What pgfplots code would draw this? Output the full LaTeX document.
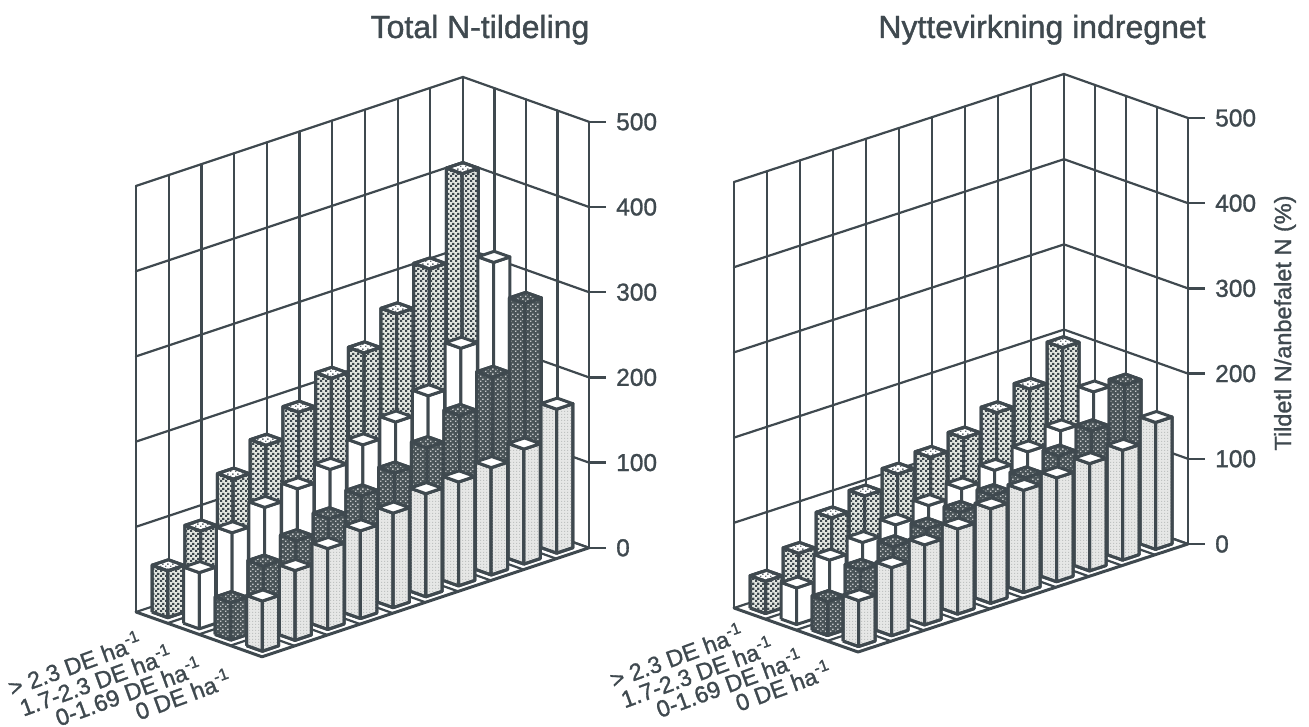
\documentclass[border=0pt]{standalone}
\usepackage{fontspec}
\setmainfont{Liberation Sans}[FakeBold=1.2]
\usepackage{pgfplots}
\pgfplotsset{compat=1.18}
\usetikzlibrary{patterns}

\definecolor{ink}{HTML}{3F494F}
\definecolor{lightstipple}{HTML}{BFC2C1}
\definecolor{palegrey}{HTML}{E6E7E6}
\definecolor{midgrey}{HTML}{4A5458}
\definecolor{tint}{HTML}{E4E7E2}

% Fill textures for the four stocking classes
\pgfdeclarepatternformonly{checkdots}{\pgfqpoint{0pt}{0pt}}{\pgfqpoint{5pt}{5pt}}{\pgfqpoint{5pt}{5pt}}{%
  \pgfpathrectangle{\pgfqpoint{0pt}{0pt}}{\pgfqpoint{2.5pt}{2.5pt}}%
  \pgfpathrectangle{\pgfqpoint{2.5pt}{2.5pt}}{\pgfqpoint{2.5pt}{2.5pt}}%
  \pgfusepath{fill}}
\pgfdeclarepatternformonly{holes}{\pgfqpoint{0pt}{0pt}}{\pgfqpoint{5pt}{5pt}}{\pgfqpoint{5pt}{5pt}}{%
  \pgfpathrectangle{\pgfqpoint{0pt}{0pt}}{\pgfqpoint{1.6pt}{1.6pt}}%
  \pgfpathrectangle{\pgfqpoint{2.5pt}{2.5pt}}{\pgfqpoint{1.6pt}{1.6pt}}%
  \pgfusepath{fill}}
\pgfdeclarepatternformonly{stipple}{\pgfqpoint{0pt}{0pt}}{\pgfqpoint{3pt}{3pt}}{\pgfqpoint{3pt}{3pt}}{%
  \pgfpathrectangle{\pgfqpoint{0pt}{0pt}}{\pgfqpoint{1.5pt}{1.5pt}}%
  \pgfusepath{fill}}

\pgfplotsset{
  frame/.style={ink,line width=2.2pt,line cap=round,line join=round,forget plot},
  edge/.style={draw=ink,line width=3pt,line join=round,forget plot},
  sideA/.style={edge,fill=tint,postaction={pattern=checkdots,pattern color=ink}},
  topA/.style={edge,fill=white,postaction={pattern=holes,pattern color=ink!80}},
  sideB/.style={edge,fill=white},
  topB/.style={edge,fill=white},
  sideC/.style={edge,fill=midgrey,postaction={pattern=holes,pattern color=white!70!ink}},
  topC/.style={edge,fill=midgrey,postaction={pattern=holes,pattern color=white!70!ink}},
  sideD/.style={edge,fill=palegrey,postaction={pattern=stipple,pattern color=lightstipple}},
  topD/.style={edge,fill=white},
  chart/.style={
    hide axis,clip=false,disabledatascaling,anchor=origin,
    xmin=0,xmax=10,ymin=0,ymax=4,zmin=0,zmax=500}
}

% One column: cell #1 along x, row #2 along y, height #3, texture letter #4
\newcommand{\col}[4]{%
  \pgfmathsetmacro{\xa}{#1+.25}\pgfmathsetmacro{\xb}{#1+.75}%
  \pgfmathsetmacro{\ya}{#2+.25}\pgfmathsetmacro{\yb}{#2+.75}%
  \edef\doit{%
    \noexpand\addplot3[side#4] coordinates {(\xa,\ya,0) (\xa,\yb,0) (\xa,\yb,#3) (\xa,\ya,#3) (\xa,\ya,0)};
    \noexpand\addplot3[side#4] coordinates {(\xa,\yb,0) (\xb,\yb,0) (\xb,\yb,#3) (\xa,\yb,#3) (\xa,\yb,0)};
    \noexpand\addplot3[top#4] coordinates {(\xa,\ya,#3) (\xa,\yb,#3) (\xb,\yb,#3) (\xb,\ya,#3) (\xa,\ya,#3)};
  }\doit}

% Walls, floor, ticks and the text shared by both charts; #1 and #2 nudge the row labels
\newcommand{\walls}[2]{%
  \addplot3[frame] coordinates {(0,0,0) (10,0,0) (10,4,0)};
  \addplot3[frame] coordinates {(0,0,100) (10,0,100) (10,4,100)};
  \addplot3[frame] coordinates {(0,0,200) (10,0,200) (10,4,200)};
  \addplot3[frame] coordinates {(0,0,300) (10,0,300) (10,4,300)};
  \addplot3[frame] coordinates {(0,0,400) (10,0,400) (10,4,400)};
  \addplot3[frame] coordinates {(0,0,500) (10,0,500) (10,4,500)};
  \pgfplotsinvokeforeach{0,...,10}{\addplot3[frame] coordinates {(##1,0,0) (##1,0,500)};}
  \pgfplotsinvokeforeach{1,...,4}{\addplot3[frame] coordinates {(10,##1,0) (10,##1,500)};}
  \pgfplotsinvokeforeach{1,...,10}{\addplot3[frame] coordinates {(##1,0,0) (##1,4,0)};}
  \pgfplotsinvokeforeach{1,...,3}{\addplot3[frame] coordinates {(0,##1,0) (10,##1,0)};}
  \addplot3[ink,line width=3pt,line cap=round,line join=round,forget plot] coordinates {(0,0,0) (0,4,0) (10,4,0)};
  \pgfplotsinvokeforeach{0,100,...,500}{%
    \draw[ink,line width=2.4pt] (axis cs:10,4,##1) -- ++(17pt,0pt);
    \node[anchor=west,text=ink,font=\fontsize{24.5}{28}\selectfont,inner sep=0pt] at ([xshift=27pt]axis cs:10,4,##1) {##1};
  }
  \node[lab] at ([xshift=-8pt+#1,yshift=-31pt+#2]axis cs:0,0.5,0) {> 2.3 DE ha\textsuperscript{-1}};
  \node[lab] at ([xshift=-9pt+#1,yshift=-33pt+#2]axis cs:0,1.5,0) {1.7-2.3 DE ha\textsuperscript{-1}};
  \node[lab] at ([xshift=-11pt+#1,yshift=-34pt+#2]axis cs:0,2.5,0) {0-1.69 DE ha\textsuperscript{-1}};
  \node[lab] at ([xshift=-13pt+#1,yshift=-35pt+#2]axis cs:0,3.5,0) {0 DE ha\textsuperscript{-1}};
}
\tikzset{lab/.style={anchor=base east,rotate=20,text=ink,inner sep=0pt,font=\fontsize{23.5}{26}\selectfont}}

\begin{document}
\begin{tikzpicture}[x=1pt,y=1pt]
\path[use as bounding box] (0,0) rectangle (1309,727);

% Total allocation
\begin{axis}[chart,at={(136pt,115pt)},
  x={(32.7pt,10.9pt)},y={(31.5pt,-11.2pt)},z={(0pt,0.852pt)}]
\walls{0pt}{0pt}
% row > 2.3
\col{9}{0}{406}{A}\col{8}{0}{307}{A}\col{7}{0}{267}{A}\col{6}{0}{234}{A}\col{5}{0}{217}{A}
\col{4}{0}{190}{A}\col{3}{0}{164}{A}\col{2}{0}{137}{A}\col{1}{0}{89}{A}\col{0}{0}{55}{A}
% row 1.7-2.3
\col{9}{1}{315}{B}\col{8}{1}{227}{B}\col{7}{1}{184}{B}\col{6}{1}{166}{B}\col{5}{1}{152}{B}
\col{4}{1}{136}{B}\col{3}{1}{126}{B}\col{2}{1}{117}{B}\col{1}{1}{100}{B}\col{0}{1}{66}{B}
% row 0-1.69
\col{9}{2}{280}{C}\col{8}{2}{206}{C}\col{7}{2}{174}{C}\col{6}{2}{149}{C}\col{5}{2}{132}{C}
\col{4}{2}{118}{C}\col{3}{2}{104}{C}\col{2}{2}{91}{C}\col{1}{2}{74}{C}\col{0}{2}{44}{C}
% row 0
\col{9}{3}{169}{D}\col{8}{3}{135}{D}\col{7}{3}{126}{D}\col{6}{3}{122}{D}\col{5}{3}{121}{D}
\col{4}{3}{111}{D}\col{3}{3}{103}{D}\col{2}{3}{95}{D}\col{1}{3}{82}{D}\col{0}{3}{59}{D}
\end{axis}

% Allocation with utilisation included
\begin{axis}[chart,at={(734pt,119pt)},
  x={(33pt,10.8pt)},y={(31pt,-11pt)},z={(0pt,0.852pt)}]
\walls{4pt}{4pt}
\col{9}{0}{198}{A}\col{8}{0}{162}{A}\col{7}{0}{147}{A}\col{6}{0}{130}{A}\col{5}{0}{120}{A}
\col{4}{0}{113}{A}\col{3}{0}{100}{A}\col{2}{0}{87}{A}\col{1}{0}{58}{A}\col{0}{0}{38}{A}
\col{9}{1}{159}{B}\col{8}{1}{126}{B}\col{7}{1}{114}{B}\col{6}{1}{105}{B}\col{5}{1}{96}{B}
\col{4}{1}{89}{B}\col{3}{1}{79}{B}\col{2}{1}{71}{B}\col{1}{1}{63}{B}\col{0}{1}{43}{B}
\col{9}{2}{180}{C}\col{8}{2}{139}{C}\col{7}{2}{122}{C}\col{6}{2}{109}{C}\col{5}{2}{101}{C}
\col{4}{2}{94}{C}\col{3}{2}{87}{C}\col{2}{2}{79}{C}\col{1}{2}{64}{C}\col{0}{2}{40}{C}
\col{9}{3}{149}{D}\col{8}{3}{129}{D}\col{7}{3}{126}{D}\col{6}{3}{122}{D}\col{5}{3}{120}{D}
\col{4}{3}{111}{D}\col{3}{3}{100}{D}\col{2}{3}{94}{D}\col{1}{3}{80}{D}\col{0}{3}{54}{D}
\end{axis}

\node[anchor=base,text=ink,font=\fontsize{32}{36}\selectfont,inner sep=0pt] at (480,689) {Total N-tildeling};
\node[anchor=base,text=ink,font=\fontsize{32}{36}\selectfont,inner sep=0pt] at (1042,689) {Nyttevirkning indregnet};
\node[rotate=90,text=ink,font=\fontsize{23.5}{26}\selectfont,inner sep=0pt] at (1285,404) {Tildetl N/anbefalet N (\%)};
\end{tikzpicture}
\end{document}
